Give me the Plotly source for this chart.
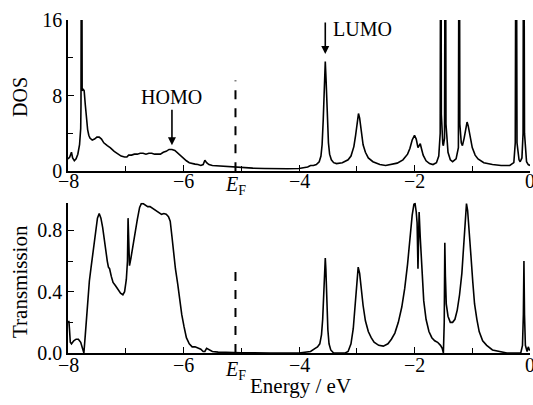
import plotly.graph_objects as go

# ---- data ----
dos_energy = [-8.00, -7.97, -7.94, -7.92, -7.89, -7.86, -7.83, -7.80, -7.78, -7.775, -7.765, -7.755,
              -7.74, -7.72, -7.70, -7.68, -7.66, -7.64, -7.62, -7.58, -7.54, -7.50, -7.46, -7.42,
              -7.38, -7.32, -7.27, -7.20, -7.14, -7.08, -7.02, -6.98, -6.95, -6.90, -6.85, -6.80,
              -6.75, -6.70, -6.65, -6.60, -6.55, -6.50, -6.45, -6.40, -6.35, -6.30, -6.25, -6.20,
              -6.15, -6.10, -6.05, -6.00, -5.95, -5.90, -5.85, -5.80, -5.75, -5.70, -5.66, -5.63,
              -5.60, -5.56, -5.50, -5.40, -5.30, -5.20, -5.10, -5.00, -4.80, -4.60, -4.40, -4.20,
              -4.00, -3.90, -3.85, -3.80, -3.75, -3.70, -3.65, -3.62, -3.60, -3.58, -3.56, -3.545,
              -3.53, -3.51, -3.49, -3.47, -3.44, -3.40, -3.35, -3.25, -3.15, -3.10, -3.05, -3.02,
              -3.00, -2.97, -2.95, -2.92, -2.89, -2.85, -2.80, -2.72, -2.60, -2.50, -2.40, -2.30,
              -2.20, -2.12, -2.08, -2.04, -2.00, -1.97, -1.94, -1.92, -1.90, -1.88, -1.85, -1.80,
              -1.74, -1.68, -1.62, -1.58, -1.555, -1.545, -1.535, -1.51, -1.50, -1.48, -1.465, -1.455,
              -1.42, -1.38, -1.34, -1.28, -1.24, -1.225, -1.215, -1.19, -1.17, -1.14, -1.11, -1.09,
              -1.07, -1.04, -1.00, -0.95, -0.90, -0.80, -0.65, -0.50, -0.35, -0.28, -0.255, -0.24,
              -0.225, -0.19, -0.17, -0.14, -0.12, -0.11, -0.095, -0.06, -0.03, 0.00]
dos_values = [1.3, 1.5, 2.0, 1.4, 1.1, 1.3, 1.8, 2.8, 4.5, 7.0, 40.0, 8.5,
              8.7, 8.5, 7.0, 5.5, 4.4, 3.8, 3.5, 3.3, 3.4, 3.6, 3.6, 3.4,
              3.0, 2.7, 2.5, 2.1, 1.8, 1.6, 1.5, 1.5, 1.7, 1.7, 1.8, 1.8,
              1.9, 1.9, 1.8, 1.9, 1.9, 1.8, 1.8, 1.8, 2.0, 2.1, 2.3, 2.3,
              2.2, 1.9, 1.6, 1.3, 1.1, 0.9, 0.8, 0.75, 0.7, 0.6, 0.7, 1.15,
              0.9, 0.7, 0.6, 0.55, 0.5, 0.45, 0.42, 0.38, 0.32, 0.28, 0.25, 0.25,
              0.28, 0.35, 0.45, 0.6, 0.6, 0.7, 1.0, 1.6, 2.8, 5.5, 9.5, 11.6,
              9.5, 5.5, 3.0, 1.8, 1.2, 0.9, 0.8, 0.9, 1.2, 1.6, 2.6, 3.8,
              5.0, 6.1, 5.6, 4.0, 2.8, 2.0, 1.4, 1.0, 0.7, 0.6, 0.7, 0.85,
              1.2, 1.8, 2.4, 3.3, 3.8, 3.4, 2.5, 2.7, 2.9, 2.4, 1.7, 1.1,
              0.8, 0.7, 0.9, 1.6, 4.0, 40.0, 6.0, 2.9, 2.7, 3.5, 40.0, 5.0,
              2.0, 1.2, 1.0, 1.3, 2.5, 40.0, 5.0, 3.0, 2.7, 3.5, 4.8, 5.2,
              4.8, 3.6, 2.5, 1.7, 1.3, 0.9, 0.7, 0.6, 0.6, 0.9, 3.0, 40.0,
              3.0, 1.2, 1.0, 1.4, 4.0, 40.0, 4.0, 1.0, 0.7, 0.6]

trans_energy = [-7.99, -7.985, -7.975, -7.96, -7.94, -7.90, -7.86, -7.82, -7.78, -7.75, -7.725, -7.70,
                -7.67, -7.63, -7.60, -7.56, -7.52, -7.49, -7.46, -7.43, -7.40, -7.36, -7.32, -7.30,
                -7.28, -7.25, -7.22, -7.18, -7.13, -7.09, -7.05, -7.02, -6.99, -6.97, -6.96, -6.95,
                -6.935, -6.91, -6.87, -6.84, -6.80, -6.76, -6.73, -6.70, -6.66, -6.62, -6.58, -6.54,
                -6.50, -6.46, -6.42, -6.38, -6.34, -6.30, -6.26, -6.23, -6.20, -6.17, -6.14, -6.10,
                -6.07, -6.03, -5.99, -5.95, -5.90, -5.85, -5.80, -5.75, -5.70, -5.66, -5.63, -5.60,
                -5.56, -5.50, -5.40, -5.30, -5.20, -5.00, -4.50, -4.00, -3.90, -3.80, -3.72, -3.68,
                -3.64, -3.61, -3.59, -3.57, -3.555, -3.545, -3.535, -3.52, -3.50, -3.48, -3.45, -3.40,
                -3.20, -3.15, -3.10, -3.06, -3.03, -3.00, -2.975, -2.95, -2.92, -2.89, -2.85, -2.80,
                -2.75, -2.70, -2.62, -2.54, -2.46, -2.40, -2.34, -2.28, -2.22, -2.17, -2.12, -2.08,
                -2.04, -2.01, -1.99, -1.97, -1.955, -1.94, -1.93, -1.92, -1.90, -1.87, -1.84, -1.80,
                -1.75, -1.70, -1.65, -1.60, -1.55, -1.52, -1.50, -1.485, -1.475, -1.465, -1.45, -1.42,
                -1.38, -1.34, -1.30, -1.26, -1.22, -1.18, -1.15, -1.12, -1.10, -1.08, -1.05, -1.02,
                -0.99, -0.96, -0.92, -0.88, -0.82, -0.75, -0.65, -0.55, -0.40, -0.16, -0.13, -0.115,
                -0.105, -0.095, -0.08, -0.05, -0.03, -0.01, 0.00]
trans_values = [0.20, 0.21, 0.16, 0.07, 0.06, 0.08, 0.09, 0.09, 0.07, 0.03, 0.0, 0.12,
                0.30, 0.47, 0.56, 0.68, 0.80, 0.88, 0.91, 0.88, 0.82, 0.70, 0.60, 0.56,
                0.55, 0.50, 0.46, 0.44, 0.41, 0.39, 0.38, 0.40, 0.48, 0.60, 0.88, 0.70,
                0.57, 0.62, 0.72, 0.78, 0.87, 0.95, 0.975, 0.975, 0.965, 0.955, 0.955, 0.945,
                0.935, 0.925, 0.91, 0.905, 0.91, 0.905, 0.89, 0.86, 0.76, 0.65, 0.55, 0.45,
                0.36, 0.25, 0.17, 0.10, 0.06, 0.04, 0.04, 0.03, 0.025, 0.01, 0.01, 0.03,
                0.02, 0.01, 0.006, 0.004, 0.002, 0.001, 0.0, 0.0, 0.005, 0.01, 0.03, 0.04,
                0.06, 0.12, 0.22, 0.40, 0.55, 0.62, 0.55, 0.35, 0.15, 0.06, 0.02, 0.0,
                0.0, 0.01, 0.06, 0.16, 0.30, 0.47, 0.56, 0.52, 0.41, 0.31, 0.21, 0.14,
                0.10, 0.07, 0.05, 0.045, 0.06, 0.09, 0.13, 0.20, 0.30, 0.42, 0.58, 0.75,
                0.90, 0.97, 0.975, 0.92, 0.85, 0.55, 0.80, 0.92, 0.75, 0.50, 0.34, 0.22,
                0.14, 0.10, 0.08, 0.07, 0.05, 0.03, 0.0, 0.20, 0.72, 0.50, 0.32, 0.24,
                0.20, 0.20, 0.22, 0.28, 0.38, 0.52, 0.72, 0.92, 0.975, 0.93, 0.80, 0.62,
                0.46, 0.32, 0.22, 0.14, 0.08, 0.05, 0.02, 0.01, 0.0, 0.0, 0.05, 0.25,
                0.60, 0.25, 0.05, 0.01, 0.04, 0.02, 0.02]

xtick_values = [-8, -6, -4, -2, 0]
xtick_labels = ["−8", "−6", "−4", "−2", "0"]

fermi_energy = -5.1
fermi_dash_dos = 9.6
fermi_dash_trans = 0.58
homo_point = (-6.2, 2.75)
lumo_point = (-3.545, 12.4)

FONT = "Liberation Serif, DejaVu Serif, serif"
fs = 20

W, H = 533, 405
L, R, T, B = 68, 3, 20, 52
PW, PH = W - L - R, H - T - B


def px(xp):
    return (xp - L) / PW


def py(yp):
    return 1 - (yp - T) / PH


fig = go.Figure()
fig.add_trace(go.Scatter(x=dos_energy, y=dos_values, mode="lines",
                         line=dict(color="black", width=1.6), xaxis="x", yaxis="y",
                         showlegend=False, hoverinfo="skip"))
fig.add_trace(go.Scatter(x=trans_energy, y=trans_values, mode="lines",
                         line=dict(color="black", width=1.6), xaxis="x2", yaxis="y2",
                         showlegend=False, hoverinfo="skip"))

xcommon = dict(range=[-8, 0], tickmode="array", tickvals=xtick_values, ticks="inside",
               ticklen=6, tickwidth=1.2, tickcolor="black", showline=True, linecolor="black",
               linewidth=1.5, showgrid=False, zeroline=False, showticklabels=False, automargin=False,
               minor=dict(ticks="inside", tickmode="array", tickvals=[-7, -5, -3, -1], ticklen=5,
                          tickwidth=1.2, tickcolor="black"))
ycommon = dict(ticks="inside", ticklen=6, tickwidth=1.2, tickcolor="black", showline=True,
               linecolor="black", linewidth=1.5, showgrid=False, zeroline=False, automargin=False,
               tickfont=dict(family=FONT, size=fs, color="black"))

fig.update_layout(
    width=W, height=H,
    margin=dict(l=L, r=R, t=T, b=B),
    paper_bgcolor="white", plot_bgcolor="white",
    xaxis=dict(domain=[0, 1], anchor="y", **xcommon),
    yaxis=dict(domain=[0.546, 1], anchor="x", range=[0, 16], tickmode="linear", tick0=0, dtick=8,
               minor=dict(ticks="inside", dtick=4, tick0=0, ticklen=5, tickwidth=1.2, tickcolor="black"),
               **ycommon),
    xaxis2=dict(domain=[0, 1], anchor="y2", **xcommon),
    yaxis2=dict(domain=[0, 0.451], anchor="x2", range=[0, 0.98], tickmode="linear", tick0=0, dtick=0.4,
                tickformat=".1f",
                minor=dict(ticks="inside", dtick=0.2, tick0=0, ticklen=5, tickwidth=1.2, tickcolor="black"),
                **ycommon),
    font=dict(family=FONT, size=fs, color="black"),
)

fig.add_shape(type="line", xref="x", yref="y", x0=fermi_energy, x1=fermi_energy, y0=0, y1=fermi_dash_dos,
              line=dict(color="black", width=2, dash="dash"))
fig.add_shape(type="line", xref="x2", yref="y2", x0=fermi_energy, x1=fermi_energy, y0=0, y1=fermi_dash_trans,
              line=dict(color="black", width=2, dash="dash"))

ann = []
# x tick labels for both panels, placed on the library's x scale
for v, lab in zip(xtick_values, xtick_labels):
    ann.append(dict(x=v, y=py(181), xref="x", yref="paper", xanchor="center", yanchor="middle",
                    showarrow=False, text=lab, font=dict(family=FONT, size=fs)))
    ann.append(dict(x=v, y=py(365), xref="x2", yref="paper", xanchor="center", yanchor="middle",
                    showarrow=False, text=lab, font=dict(family=FONT, size=fs)))
ann.append(dict(x=fermi_energy, y=py(185), xref="x", yref="paper", xanchor="center", yanchor="middle",
                showarrow=False, text="<i>E</i><sub>F</sub>", font=dict(family=FONT, size=fs)))
ann.append(dict(x=fermi_energy, y=py(370), xref="x2", yref="paper", xanchor="center", yanchor="middle",
                showarrow=False, text="<i>E</i><sub>F</sub>", font=dict(family=FONT, size=fs)))
ann.append(dict(x=homo_point[0], y=homo_point[1], xref="x", yref="y", ax=0, ay=-37, showarrow=True,
                arrowhead=2, arrowsize=1, arrowwidth=1.6, arrowcolor="black", text=""))
ann.append(dict(x=px(171), y=py(97), xref="paper", yref="paper", xanchor="center", yanchor="middle",
                showarrow=False, text="HOMO", font=dict(family=FONT, size=fs)))
ann.append(dict(x=lumo_point[0], y=lumo_point[1], xref="x", yref="y", ax=0, ay=-33, showarrow=True,
                arrowhead=2, arrowsize=1, arrowwidth=1.6, arrowcolor="black", text=""))
ann.append(dict(x=px(331), y=py(29.5), xref="paper", yref="paper", xanchor="left", yanchor="middle",
                showarrow=False, text="LUMO", font=dict(family=FONT, size=fs)))
ann.append(dict(x=px(20), y=py(97), xref="paper", yref="paper", xanchor="center", yanchor="middle",
                showarrow=False, text="DOS", textangle=-90, font=dict(family=FONT, size=fs)))
ann.append(dict(x=px(20), y=py(282), xref="paper", yref="paper", xanchor="center", yanchor="middle",
                showarrow=False, text="Transmission", textangle=-90, font=dict(family=FONT, size=fs + 1)))
ann.append(dict(x=px(300), y=py(386), xref="paper", yref="paper", xanchor="center", yanchor="middle",
                showarrow=False, text="Energy / eV", font=dict(family=FONT, size=fs + 1)))
fig.update_layout(annotations=ann)

fig.write_html("out.html")
